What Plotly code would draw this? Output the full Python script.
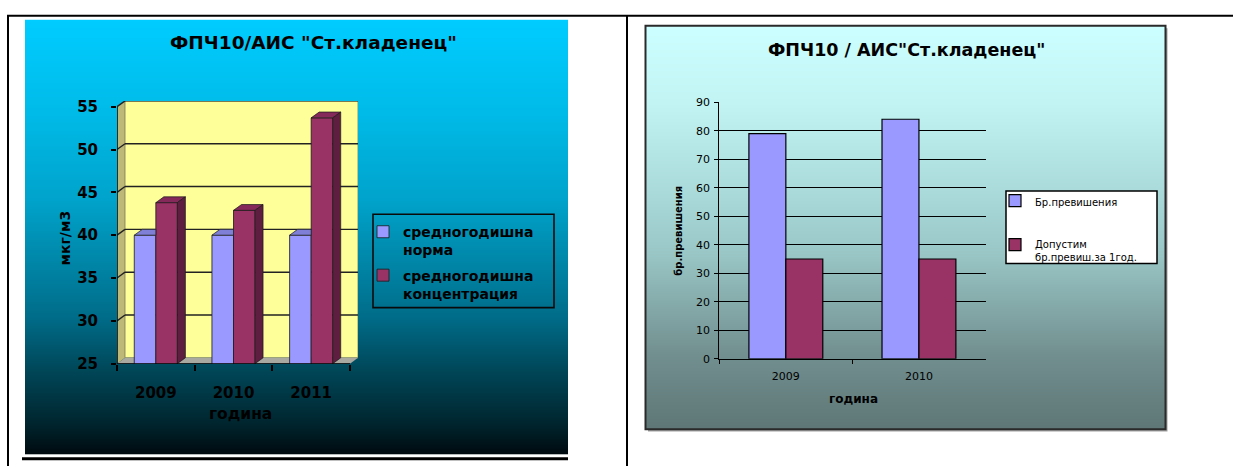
import plotly.graph_objects as go

# ---------------- data ----------------
YEARS_LEFT = ["2009", "2010", "2011"]
NORMA = [40, 40, 40]
CONCENTRATION = [43.8, 42.9, 53.7]
LEFT_SERIES = ["средногодишна<br>норма", "средногодишна<br>концентрация"]
LEFT_YTICKS = [25, 30, 35, 40, 45, 50, 55]
LEFT_TITLE = 'ФПЧ10/АИС "Ст.кладенец"'
LEFT_YTITLE = "мкг/м3"

YEARS_RIGHT = ["2009", "2010"]
EXCEEDANCES = [79, 84]
ALLOWED = [35, 35]
RIGHT_SERIES = ["Бр.превишения", "Допустим<br>бр.превиш.за 1год."]
RIGHT_YTICKS = [0, 10, 20, 30, 40, 50, 60, 70, 80, 90]
RIGHT_TITLE = 'ФПЧ10 / АИС"Ст.кладенец"'
RIGHT_YTITLE = "бр.превишения"
XTITLE = "година"

# ---------------- style / geometry ----------------
W, H = 1233, 475
FONT = "DejaVu Sans"
BARGAP = 0.445
C_NORMA, C_CONC = "#9999FF", "#993366"
C_NORMA_TOP, C_CONC_TOP, C_CONC_SIDE = "#7F7FD8", "#84295A", "#5E1E40"


def px(v):
    return v / W


def py(v):
    return 1 - v / H


L_X0, L_XFRONT = 117.0, 350.0
L_YBOT, L_YTOP_TICK = 369.3, 104.0
DEPTH_PX_X, DEPTH_PX_Y = 8.0, 6.0
nL = len(YEARS_LEFT)
unit_x = (L_XFRONT - L_X0) / nL
DX = DEPTH_PX_X / unit_x
ymin, ymax = LEFT_YTICKS[0], LEFT_YTICKS[-1]
unit_y = (L_YBOT - L_YTOP_TICK) / (ymax - ymin)
DY = DEPTH_PX_Y / unit_y
L_XR = L_X0 + (nL + DX) * unit_x
L_YT = L_YBOT - (ymax - ymin + DY) * unit_y

fig = go.Figure()

# ---- gradient backgrounds (decorative) ----
LEFT_BG = [(463, "#000A0F"), (430, "#00262F"), (380, "#004455"), (320, "#006D8A"),
           (260, "#0088AA"), (200, "#00A3CB"), (100, "#00BDEB"), (14, "#00CCFF")]
RIGHT_BG = [(437, "#5E7676"), (360, "#728F8F"), (300, "#88AEAE"), (260, "#98C4C4"),
            (200, "#A8D8D8"), (100, "#C2F4F4"), (20, "#CCFFFF")]


def scale(stops, top, bot):
    return [[(bot - p) / (bot - top), c] for p, c in stops]


fig.add_trace(go.Heatmap(z=[[0, 0], [1, 1]], x=[0, 1], y=[0, 1], zmin=0, zmax=1,
                         colorscale=scale(LEFT_BG, 14, 463), zsmooth="best",
                         showscale=False, hoverinfo="skip", xaxis="x", yaxis="y"))
fig.add_trace(go.Heatmap(z=[[0, 0], [1, 1]], x=[0, 1], y=[0, 1], zmin=0, zmax=1,
                         colorscale=scale(RIGHT_BG, 20, 437), zsmooth="best",
                         showscale=False, hoverinfo="skip", xaxis="x2", yaxis="y2"))

# ---- left (3D) chart bars ----
xs = list(range(nL))
fig.add_trace(go.Bar(x=xs, y=NORMA, name=LEFT_SERIES[0], xaxis="x3", yaxis="y3",
                     marker=dict(color=C_NORMA, line=dict(color="#1a1a1a", width=0.8)),
                     offsetgroup="l1", legend="legend", legendgroup="ln"))
fig.add_trace(go.Bar(x=xs, y=CONCENTRATION, name=LEFT_SERIES[1], xaxis="x3", yaxis="y3",
                     marker=dict(color=C_CONC, line=dict(color="#1a1a1a", width=0.8)),
                     offsetgroup="l2", legend="legend", legendgroup="lc"))

bw = (1 - BARGAP) / 2


def faces(values, kind):
    X, Y = [], []
    for x, v in zip(xs, values):
        if kind == "norma_top":
            pts = [(x - bw, v), (x, v), (x, v + DY), (x - bw + DX, v + DY)]
        elif kind == "conc_top":
            pts = [(x, v), (x + bw, v), (x + bw + DX, v + DY), (x + DX, v + DY)]
        else:
            pts = [(x + bw, ymin), (x + bw + DX, ymin + DY), (x + bw + DX, v + DY), (x + bw, v)]
        pts.append(pts[0])
        X += [p[0] for p in pts] + [None]
        Y += [p[1] for p in pts] + [None]
    return X, Y


for vals, kind, col in [(NORMA, "norma_top", C_NORMA_TOP),
                        (CONCENTRATION, "conc_top", C_CONC_TOP),
                        (CONCENTRATION, "conc_side", C_CONC_SIDE)]:
    fx, fy = faces(vals, kind)
    fig.add_trace(go.Scatter(x=fx, y=fy, mode="lines", fill="toself", fillcolor=col,
                             line=dict(color="#1a1a1a", width=0.7), showlegend=False,
                             hoverinfo="skip", xaxis="x3", yaxis="y3"))

# ---- right chart bars ----
fig.add_trace(go.Bar(x=YEARS_RIGHT, y=EXCEEDANCES, name=RIGHT_SERIES[0], xaxis="x4", yaxis="y4",
                     marker=dict(color=C_NORMA, line=dict(color="#000", width=1.2)),
                     offsetgroup="r1", legend="legend2", legendgroup="re"))
fig.add_trace(go.Bar(x=YEARS_RIGHT, y=ALLOWED, name=RIGHT_SERIES[1], xaxis="x4", yaxis="y4",
                     marker=dict(color=C_CONC, line=dict(color="#000", width=1.2)),
                     offsetgroup="r2", legend="legend2", legendgroup="ra"))

# ---- shapes ----
shapes = []
x_l, x_r = -0.5, nL - 0.5
shapes.append(dict(type="path", xref="x3", yref="y3", layer="below",
                   path=f"M{x_l},{ymin} L{x_l},{ymax} L{x_l+DX},{ymax+DY} L{x_l+DX},{ymin+DY} Z",
                   fillcolor="#BDB878", line=dict(width=0)))
shapes.append(dict(type="rect", xref="x3", yref="y3", layer="below",
                   x0=x_l + DX, x1=x_r + DX, y0=ymin + DY, y1=ymax + DY,
                   fillcolor="#FFFF99", line=dict(color="#777755", width=0.8)))
shapes.append(dict(type="path", xref="x3", yref="y3", layer="below",
                   path=f"M{x_l},{ymin} L{x_r},{ymin} L{x_r+DX},{ymin+DY} L{x_l+DX},{ymin+DY} Z",
                   fillcolor="#A9A9A2", line=dict(width=0)))
for t in LEFT_YTICKS[1:]:
    shapes.append(dict(type="line", xref="x3", yref="y3", layer="below",
                       x0=x_l + DX, x1=x_r + DX, y0=t + DY, y1=t + DY,
                       line=dict(color="#222", width=1.4)))
    shapes.append(dict(type="line", xref="x3", yref="y3", layer="below",
                       x0=x_l, x1=x_l + DX, y0=t, y1=t + DY,
                       line=dict(color="#222", width=1.4)))
shapes.append(dict(type="line", xref="x3", yref="y3", x0=x_l, x1=x_l, y0=ymin, y1=ymax,
                   line=dict(color="#000", width=1.5)))
shapes.append(dict(type="line", xref="x3", yref="y3", x0=x_l, x1=x_r, y0=ymin, y1=ymin,
                   line=dict(color="#000", width=1.5)))
shapes.append(dict(type="rect", xref="x4 domain", yref="y4 domain", layer="below",
                   x0=0, x1=1, y0=0, y1=1, fillcolor="#FFFFCC", line=dict(color="#8a8a8a", width=1)))
shapes.append(dict(type="rect", xref="paper", yref="paper", layer="below",
                   x0=px(648), x1=px(1167.5), y0=py(439.5), y1=py(23), fillcolor="#A0A0A0",
                   line=dict(width=0)))
shapes.append(dict(type="rect", xref="paper", yref="paper",
                   x0=px(645.5), x1=px(1165.5), y0=py(437), y1=py(20.5),
                   line=dict(color="#2a2a2a", width=2)))
shapes.append(dict(type="rect", xref="paper", yref="paper",
                   x0=px(373), x1=px(554), y0=py(311.5), y1=py(215),
                   line=dict(color="#0a0a0a", width=1.6)))
shapes.append(dict(type="rect", xref="paper", yref="paper",
                   x0=px(1006), x1=px(1157), y0=py(266), y1=py(191),
                   fillcolor="white", line=dict(color="#000", width=1.5)))
for (x0, y0, x1, y1, w) in [(7, 10, 1233, 10, 2), (8, 10, 8, 475, 2), (627, 10, 627, 475, 2),
                            (22, 467.5, 568, 467.5, 3)]:
    shapes.append(dict(type="line", xref="paper", yref="paper", x0=px(x0), y0=py(y0),
                       x1=px(x1), y1=py(y1), line=dict(color="#000", width=w)))


def ann(text, x, y, size, bold=True, angle=0):
    return dict(text=text, x=px(x), y=py(y), xref="paper", yref="paper", showarrow=False,
                xanchor="center", yanchor="middle", textangle=angle,
                font=dict(family=FONT, size=size, color="#000", weight="bold" if bold else "normal"))


annotations = [
    ann(LEFT_TITLE, 313, 38, 18.5),
    ann(LEFT_YTITLE, 65, 240, 14, angle=-90),
    ann(XTITLE, 240, 421, 15.5),
    ann(RIGHT_TITLE, 906, 45.5, 17.5),
    ann(RIGHT_YTITLE, 679, 232, 10, angle=-90),
    ann(XTITLE, 853, 406, 12),
]

tick_font_l = dict(family=FONT, size=15, color="#000", weight="bold")
tick_font_r = dict(family=FONT, size=11, color="#000")

fig.update_layout(
    width=W, height=H, autosize=False, margin=dict(l=0, r=0, t=0, b=0, pad=0),
    paper_bgcolor="white", plot_bgcolor="rgba(0,0,0,0)",
    barmode="group", bargap=BARGAP, bargroupgap=0,
    showlegend=True, hovermode=False,
    xaxis=dict(domain=[px(25), px(568)], range=[0, 1], visible=False),
    yaxis=dict(domain=[py(463), py(14)], range=[0, 1], visible=False),
    xaxis2=dict(domain=[px(646), px(1165)], range=[0, 1], visible=False),
    yaxis2=dict(domain=[py(437), py(20)], range=[0, 1], visible=False),
    xaxis3=dict(domain=[px(L_X0), px(L_XR)], range=[x_l, x_r + DX], anchor="y3",
                tickmode="array", tickvals=xs, ticktext=YEARS_LEFT, ticks="",
                showline=False, showgrid=False, zeroline=False, tickfont=tick_font_l,
                ticklabelstandoff=18,
                minor=dict(tickmode="array", tickvals=[i - 0.5 for i in range(nL + 1)],
                           ticks="outside", ticklen=6, tickwidth=1.5, tickcolor="#000",
                           showgrid=False)),
    yaxis3=dict(domain=[py(L_YBOT), py(L_YT)], range=[ymin, ymax + DY], anchor="x3",
                tickmode="array", tickvals=LEFT_YTICKS, ticks="outside", ticklen=5,
                tickwidth=1.5, tickcolor="#000", showgrid=False, zeroline=False,
                showline=False, tickfont=tick_font_l, ticklabelstandoff=10),
    xaxis4=dict(domain=[px(719.3), px(985.5)], anchor="y4", type="category",
                tickson="boundaries", ticks="outside", ticklen=4, tickcolor="#000",
                showline=True, linecolor="#000", linewidth=1.2, showgrid=False,
                tickfont=tick_font_r, ticklabelstandoff=7),
    yaxis4=dict(domain=[py(364.3), py(99.3)], range=[0, 90], anchor="x4",
                tickmode="array", tickvals=RIGHT_YTICKS, ticks="outside", ticklen=4,
                tickcolor="#000", showline=True, linecolor="#000", linewidth=1.2,
                showgrid=True, gridcolor="#000", gridwidth=1, zeroline=False,
                tickfont=tick_font_r, ticklabelstandoff=2),
    legend=dict(x=px(363), y=py(217), xanchor="left", yanchor="top",
                bgcolor="rgba(0,0,0,0)", borderwidth=0, valign="top",
                tracegroupgap=4, traceorder="grouped",
                font=dict(family=FONT, size=14, color="#000", weight="bold")),
    legend2=dict(x=px(995), y=py(187.5), xanchor="left", yanchor="top",
                 bgcolor="rgba(0,0,0,0)", borderwidth=0, valign="top",
                 tracegroupgap=25, traceorder="grouped",
                 font=dict(family=FONT, size=10, color="#000")),
    shapes=shapes, annotations=annotations,
)

fig.write_html("out.html", config={"displayModeBar": False})
